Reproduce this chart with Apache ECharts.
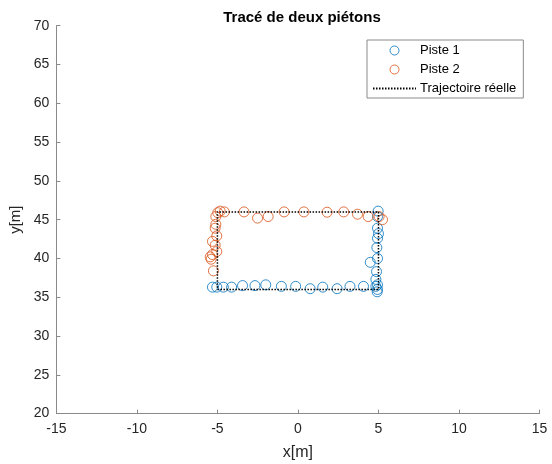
<!DOCTYPE html>
<html>
<head>
<meta charset="utf-8">
<script src="https://cdn.jsdelivr.net/npm/echarts@6/dist/echarts.min.js"></script>
<style>
  html, body { margin: 0; padding: 0; background: #fff; }
  #chart { width: 552px; height: 464px; }
</style>
</head>
<body>
<div id="chart"></div>
<script>
// Track 1 estimates (x, y in metres)
const piste1X = [-5.31, -5.04, -4.63, -4.12, -3.44, -2.67, -2.0, -1.03, -0.14, 0.76, 1.54, 2.43, 3.23, 4.07, 4.84, 4.92,
                 4.94, 4.94, 4.84, 4.88, 4.49, 4.94, 4.9, 4.94, 5.0, 4.94, 4.94, 4.98];
const piste1Y = [36.3, 36.3, 36.3, 36.3, 36.5, 36.5, 36.6, 36.4, 36.4, 36.1, 36.3, 36.1, 36.4, 36.4, 36.4, 35.7,
                 36.0, 36.6, 37.3, 38.3, 39.5, 40.0, 41.4, 42.6, 43.2, 43.9, 45.4, 46.1];

// Track 2 estimates (x, y in metres)
const piste2X = [5.25, 5.04, 4.36, 3.70, 2.84, 1.81, 0.37, -0.86, -1.85, -2.51, -3.35, -4.57, -4.83,
                 -4.98, -5.1, -5.1, -5.14, -5.04, -5.31, -5.14, -5.04, -5.31, -5.45, -5.39, -5.25];
const piste2Y = [45.0, 45.4, 45.4, 45.7, 46.0, 45.96, 46.0, 46.0, 45.4, 45.2, 46.0, 46.0, 46.1,
                 45.9, 45.4, 44.4, 43.9, 42.9, 42.2, 41.7, 40.9, 40.5, 40.2, 39.9, 38.4];

// Ground-truth path: rectangle corners
const trajX = [-5, 5, 5, -5, -5];
const trajY = [36, 36, 46, 46, 36];

const xTicks = [-15, -10, -5, 0, 5, 10, 15];
const yTicks = [20, 25, 30, 35, 40, 45, 50, 55, 60, 65, 70];

const zip = (xs, ys) => xs.map((x, i) => [x, ys[i]]);

const FONT = '"Liberation Sans", Arial, Helvetica, sans-serif';
const AXIS_COLOR = '#8a8a8a';
const BLUE = '#0072BD';
const ORANGE = '#D95319';

const chart = echarts.init(document.getElementById('chart'), null, { renderer: 'canvas' });

const axisCommon = {
  type: 'value',
  axisLine: { show: true, onZero: false, lineStyle: { color: AXIS_COLOR, width: 1 } },
  axisTick: { show: true, inside: true, length: 4, lineStyle: { color: AXIS_COLOR } },
  splitLine: { show: false },
  axisLabel: { color: '#262626', fontFamily: FONT, fontSize: 14 },
  nameLocation: 'middle',
  nameTextStyle: { color: '#262626', fontFamily: FONT, fontSize: 15 }
};

chart.setOption({
  animation: false,
  backgroundColor: '#fff',
  title: {
    text: 'Tracé de deux piétons',
    left: 297,
    top: 5,
    textAlign: 'center',
    textStyle: { fontFamily: FONT, fontSize: 15, fontWeight: 'bold', color: '#000' }
  },
  grid: {
    left: 56.4, right: 12.5, top: 25.7, bottom: 50.4,
    containLabel: false,
    outerBoundsMode: 'none'
  },
  xAxis: Object.assign({}, axisCommon, {
    min: xTicks[0], max: xTicks[xTicks.length - 1], interval: 5,
    name: 'x[m]', nameGap: 31,
    nameTextStyle: Object.assign({}, axisCommon.nameTextStyle, { fontSize: 16 }),
    axisLabel: Object.assign({}, axisCommon.axisLabel, { margin: 9 })
  }),
  yAxis: Object.assign({}, axisCommon, {
    min: yTicks[0], max: yTicks[yTicks.length - 1], interval: 5,
    name: 'y[m]', nameGap: 25,
    axisLabel: Object.assign({}, axisCommon.axisLabel, { margin: 7 })
  }),
  legend: {
    orient: 'vertical',
    left: 367,
    top: 40,
    backgroundColor: '#fff',
    borderColor: '#8a8a8a',
    borderWidth: 1,
    borderRadius: 0,
    padding: [4, 7, 3, 5],
    itemWidth: 43,
    itemHeight: 9,
    itemGap: 6,
    itemStyle: { borderWidth: 1 },
    textStyle: { fontFamily: FONT, fontSize: 13, color: '#000', padding: [0, 0, 0, -1] },
    data: ['Piste 1', 'Piste 2', 'Trajectoire réelle']
  },
  series: [
    {
      name: 'Piste 1',
      type: 'scatter',
      symbol: 'circle',
      symbolSize: 10,
      itemStyle: { color: 'rgba(0,0,0,0)', borderColor: BLUE, borderWidth: 1 },
      data: zip(piste1X, piste1Y),
      z: 2
    },
    {
      name: 'Piste 2',
      type: 'scatter',
      symbol: 'circle',
      symbolSize: 10,
      itemStyle: { color: 'rgba(0,0,0,0)', borderColor: ORANGE, borderWidth: 1 },
      data: zip(piste2X, piste2Y),
      z: 2
    },
    {
      name: 'Trajectoire réelle',
      type: 'line',
      symbol: 'none',
      showSymbol: false,
      lineStyle: { color: '#000', width: 1.5, type: [1.5, 1.5] },
      itemStyle: { color: '#000', opacity: 0 },
      data: zip(trajX, trajY),
      z: 3
    }
  ]
});
</script>
</body>
</html>
